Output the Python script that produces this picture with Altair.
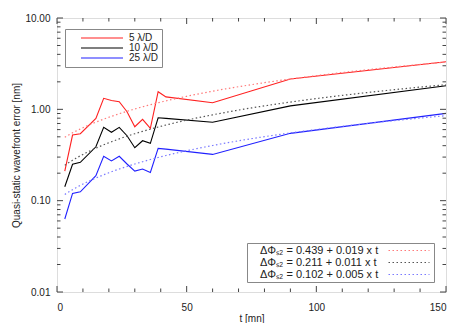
import altair as alt
import pandas as pd

# ---- data ----
t_values = [3, 6, 9, 15, 18, 21, 24, 27, 30, 33, 36, 39, 42, 60, 90, 150]
err_5 = [0.211, 0.523, 0.541, 0.797, 1.32, 1.25, 1.21, 0.941, 0.645, 0.777, 0.619, 1.56, 1.37, 1.18, 2.15, 3.32]
err_10 = [0.142, 0.250, 0.263, 0.389, 0.635, 0.560, 0.635, 0.514, 0.380, 0.453, 0.424, 0.809, 0.797, 0.721, 1.09, 1.81]
err_25 = [0.063, 0.120, 0.125, 0.188, 0.306, 0.272, 0.306, 0.252, 0.211, 0.222, 0.204, 0.374, 0.367, 0.321, 0.546, 0.904]

series_names = ["5 λ/D", "10 λ/D", "25 λ/D"]
series_colors = ["#ff2020", "#000000", "#2020ff"]

fit_intercepts = [0.439, 0.211, 0.102]
fit_slopes = [0.019, 0.011, 0.005]
fit_labels = ["ΔΦₛ₂ = 0.439 + 0.019 x t", "ΔΦₛ₂ = 0.211 + 0.011 x t", "ΔΦₛ₂ = 0.102 + 0.005 x t"]
fit_colors = ["#ff7a7a", "#555555", "#7a7aff"]
fit_t = list(range(3, 151))

x_major = [0, 50, 100, 150]
x_minor = [10, 20, 30, 40, 60, 70, 80, 90, 110, 120, 130, 140]
y_major = [0.01, 0.1, 1, 10]
y_minor = [m * d for d in (0.01, 0.1, 1) for m in range(2, 10)]

W, H = 389, 274
FONT = "Liberation Sans"

rows = []
for name, vals in zip(series_names, [err_5, err_10, err_25]):
    for t, v in zip(t_values, vals):
        rows.append({"t": t, "err": v, "series": name})
df = pd.DataFrame(rows)

frows = []
for lab, a, b in zip(fit_labels, fit_intercepts, fit_slopes):
    for t in fit_t:
        frows.append({"t": t, "lab": lab, "a": a, "b": b})
dfit = pd.DataFrame(frows)

xscale = alt.Scale(domain=[0, 150], nice=False, zero=False)
yscale = alt.Scale(type="log", domain=[0.01, 10], nice=False)

xaxis = alt.Axis(values=x_major, ticks=False, domain=False, grid=False, labelPadding=10,
                 labelFont=FONT, labelFontSize=10, labelColor="#222", title="t [mn]",
                 titleFont=FONT, titleFontSize=10, titleFontWeight="normal", titleColor="#222",
                 titlePadding=1)
yaxis = alt.Axis(values=y_major, format=".2f", ticks=False, domain=False, grid=False, labelPadding=7,
                 labelFont=FONT, labelFontSize=10, labelColor="#222",
                 title="Quasi-static wavefront error [nm]",
                 titleFont=FONT, titleFontSize=10, titleFontWeight="normal", titleColor="#222",
                 titlePadding=3)

lines = alt.Chart(df).mark_line(strokeWidth=1.1).encode(
    x=alt.X("t:Q", scale=xscale, axis=xaxis),
    y=alt.Y("err:Q", scale=yscale, axis=yaxis),
    color=alt.Color("series:N", scale=alt.Scale(domain=series_names, range=series_colors),
                    legend=alt.Legend(title=None, orient="none", legendX=8, legendY=11,
                                      symbolType="M3.5,0H24.5", symbolSize=16, symbolStrokeWidth=1.2,
                                      labelFont=FONT, labelFontSize=10, labelColor="#222",
                                      labelAlign="left", labelLimit=200,
                                      strokeColor="#888", fillColor="white", padding=4,
                                      rowPadding=0, labelOffset=50)),
    detail="series:N",
)

fits = alt.Chart(dfit).transform_calculate(
    fv="datum.a + datum.b * datum.t"
).mark_line(strokeWidth=1.2, strokeDash=[1.5, 2.5]).encode(
    x=alt.X("t:Q", scale=xscale, axis=xaxis),
    y=alt.Y("fv:Q", scale=yscale, axis=yaxis),
    color=alt.Color("lab:N", scale=alt.Scale(domain=fit_labels, range=fit_colors),
                    legend=alt.Legend(title=None, orient="none", legendX=190, legendY=225,
                                      symbolType="M268,0H350", symbolSize=1, symbolStrokeWidth=1.2,
                                      symbolDash=[1.5, 2.5], labelOffset=0,
                                      labelAlign="left", labelLimit=300,
                                      labelFont=FONT, labelFontSize=11, labelColor="#222",
                                      strokeColor="#888", fillColor="white", padding=2,
                                      rowPadding=0)),
)

def xticks(vals, length):
    d = pd.DataFrame({"v": vals})
    base = alt.Chart(d).mark_rule(color="#444", strokeWidth=1)
    bottom = base.encode(x=alt.X("v:Q", scale=xscale, axis=xaxis), y=alt.value(H), y2=alt.value(H - length))
    top = base.encode(x=alt.X("v:Q", scale=xscale, axis=xaxis), y=alt.value(0), y2=alt.value(length))
    return [bottom, top]

def yticks(vals, length):
    d = pd.DataFrame({"v": vals})
    base = alt.Chart(d).mark_rule(color="#444", strokeWidth=1)
    left = base.encode(y=alt.Y("v:Q", scale=yscale, axis=yaxis), x=alt.value(0), x2=alt.value(length))
    right = base.encode(y=alt.Y("v:Q", scale=yscale, axis=yaxis), x=alt.value(W), x2=alt.value(W - length))
    return [left, right]

tick_layers = xticks(x_major, 6) + xticks(x_minor, 3.5) + yticks(y_major, 6) + yticks(y_minor, 3.5)

chart = alt.layer(lines, fits, *tick_layers).resolve_scale(color="independent").properties(
    width=W, height=H,
    autosize=alt.AutoSizeParams(type="none"),
    padding={"left": 49, "top": 10, "right": 9, "bottom": 31},
).configure_view(stroke="#444", strokeWidth=1).configure(background="white")

chart.save("out.html", embed_options={"renderer": "svg", "actions": False})
